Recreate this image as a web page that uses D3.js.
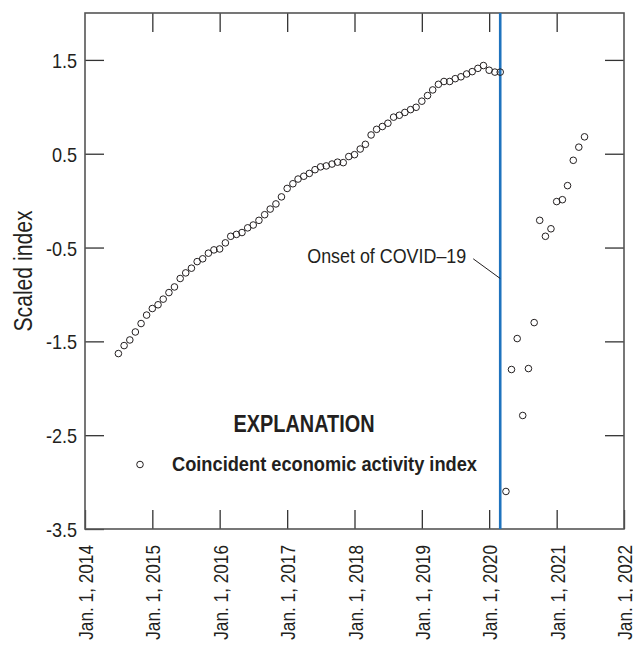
<!DOCTYPE html>
<html>
<head>
<meta charset="utf-8">
<script src="https://cdn.jsdelivr.net/npm/d3@7"></script>
<style>
  body { margin: 0; background: #fff; }
  svg text { font-family: "Liberation Sans", Arial, sans-serif; fill: #231f20; }
</style>
</head>
<body>
<svg id="chart"></svg>
<script>
var svg_width = 633;
var svg_height = 645;
var margin = {top: 13, right: 9, bottom: 116, left: 85};

// DATA (monthly, first of month)
var preStart = "2014-07-01";   // Jul 2014 .. Mar 2020
var preValues = [
  -1.63, -1.545, -1.485, -1.40, -1.31, -1.22,
  -1.15, -1.11, -1.05, -0.98, -0.92, -0.83, -0.77, -0.72, -0.65, -0.62, -0.56, -0.525,
  -0.515, -0.45, -0.38, -0.36, -0.34, -0.29, -0.26, -0.21, -0.15, -0.09, -0.035, 0.04,
  0.13, 0.18, 0.23, 0.26, 0.29, 0.33, 0.36, 0.37, 0.39, 0.41, 0.405, 0.47,
  0.49, 0.55, 0.60, 0.70, 0.76, 0.79, 0.825, 0.89, 0.91, 0.94, 0.97, 0.995,
  1.06, 1.12, 1.18, 1.24, 1.27, 1.27, 1.30, 1.32, 1.35, 1.375, 1.41, 1.44,
  1.39, 1.37, 1.37
];
var postStart = "2020-04-01";  // Apr 2020 .. Jun 2021
var postValues = [
  -3.10, -1.80, -1.47, -2.29, -1.79, -1.30, -0.21, -0.38, -0.30,
  -0.01, 0.01, 0.16, 0.43, 0.57, 0.68
];
var onsetDate = "2020-03-01";
var xTickYears = [2014, 2015, 2016, 2017, 2018, 2019, 2020, 2021, 2022];
var yTickValues = [1.5, 0.5, -0.5, -1.5, -2.5, -3.5];
var yDomain = [-3.5, 2.0];

function monthSeries(start, values) {
  var d0 = new Date(start + "T00:00:00Z");
  return values.map(function(v, i) {
    return {date: d3.utcMonth.offset(d0, i), value: v};
  });
}
var points = monthSeries(preStart, preValues).concat(monthSeries(postStart, postValues));

var plotLeft = margin.left, plotRight = svg_width - margin.right;
var plotTop = margin.top, plotBottom = svg_height - margin.bottom;

// squeeze text horizontally to fake a condensed face
function condense(sel, factor) {
  sel.each(function() {
    var w = this.getComputedTextLength();
    d3.select(this).attr("textLength", w * factor).attr("lengthAdjust", "spacingAndGlyphs");
  });
}
function fitWidth(sel, width) {
  sel.attr("textLength", width).attr("lengthAdjust", "spacingAndGlyphs");
}

// SCALES
var xScale = d3.scaleUtc()
               .domain([new Date(Date.UTC(2014, 0, 1)), new Date(Date.UTC(2022, 0, 1))])
               .range([plotLeft, plotRight]);
var yScale = d3.scaleLinear()
               .domain(yDomain)
               .range([plotBottom, plotTop]);

var svg = d3.select("#chart")
    .attr("width", svg_width)
    .attr("height", svg_height);

var tickLen = 19;
var years = xTickYears.map(function(y) { return new Date(Date.UTC(y, 0, 1)); });
var innerYears = years.slice(1, -1);
var innerY = yTickValues.slice(0, -1);

// AXES
var xAxis = d3.axisBottom(xScale)
              .tickValues(years)
              .tickSize(-tickLen)
              .tickSizeOuter(0)
              .tickFormat(function(d) { return "Jan. 1, " + d.getUTCFullYear(); });
var gx = svg.append("g")
    .attr("transform", "translate(0," + plotBottom + ")")
    .call(xAxis);
gx.selectAll("text")
    .attr("transform", "rotate(-90)")
    .attr("x", -16)
    .attr("y", 0)
    .attr("dy", "0.36em")
    .attr("font-family", null)
    .attr("font-size", null)
    .style("text-anchor", "end")
    .style("font-size", "21px")
    .call(condense, 0.82);

var yAxis = d3.axisLeft(yScale)
              .tickValues(yTickValues)
              .tickSize(-tickLen)
              .tickSizeOuter(0)
              .tickFormat(function(d) { return d.toFixed(1); });
var gy = svg.append("g")
    .attr("transform", "translate(" + plotLeft + ",0)")
    .call(yAxis);
gy.selectAll("text")
    .attr("x", -8)
    .attr("dy", "0.36em")
    .style("font-size", "21px")
    .call(condense, 0.86);

svg.append("g")
    .attr("transform", "translate(0," + plotTop + ")")
    .call(d3.axisTop(xScale).tickValues(innerYears).tickSize(-tickLen).tickSizeOuter(0).tickFormat(""));
svg.append("g")
    .attr("transform", "translate(" + plotRight + ",0)")
    .call(d3.axisRight(yScale).tickValues(innerY).tickSize(-tickLen).tickSizeOuter(0).tickFormat(""));

svg.selectAll(".domain").remove();
svg.selectAll(".tick line").attr("stroke", "#333").attr("stroke-width", 1.3);

// frame
svg.append("rect")
    .attr("x", plotLeft)
    .attr("y", plotTop)
    .attr("width", plotRight - plotLeft)
    .attr("height", plotBottom - plotTop)
    .attr("fill", "none")
    .attr("stroke", "#555")
    .attr("stroke-width", 1.6);

// onset line
var ox = xScale(new Date(onsetDate + "T00:00:00Z"));
svg.append("line")
    .attr("x1", ox)
    .attr("x2", ox)
    .attr("y1", plotTop)
    .attr("y2", plotBottom)
    .attr("stroke", "#1f73be")
    .attr("stroke-width", 2.6);

// POINTS
svg.append("g")
  .selectAll("circle")
  .data(points)
  .enter()
  .append("circle")
    .attr("cx", function(d) { return xScale(d.date); })
    .attr("cy", function(d) { return yScale(d.value); })
    .attr("r", 3.3)
    .attr("fill", "none")
    .attr("stroke", "#231f20")
    .attr("stroke-width", 1);

// ANNOTATION
svg.append("line")
    .attr("x1", ox - 27)
    .attr("y1", yScale(-0.62))
    .attr("x2", ox)
    .attr("y2", yScale(-0.83))
    .attr("stroke", "#231f20")
    .attr("stroke-width", 1);
svg.append("text")
    .attr("x", ox - 34)
    .attr("y", 263)
    .style("text-anchor", "end")
    .style("font-size", "21px")
    .text("Onset of COVID\u201319")
    .call(fitWidth, 159);

// AXIS LABEL
svg.append("text")
    .attr("transform", "rotate(-90)")
    .attr("x", -(plotTop + plotBottom) / 2)
    .attr("y", 32)
    .style("text-anchor", "middle")
    .style("font-size", "25px")
    .text("Scaled index")
    .call(fitWidth, 121);

// EXPLANATION
svg.append("text")
    .attr("x", 304)
    .attr("y", 432)
    .style("text-anchor", "middle")
    .style("font-size", "24px")
    .style("font-weight", "bold")
    .text("EXPLANATION")
    .call(fitWidth, 141);
svg.append("circle")
    .attr("cx", 140)
    .attr("cy", 464.5)
    .attr("r", 3.3)
    .attr("fill", "none")
    .attr("stroke", "#231f20")
    .attr("stroke-width", 1);
svg.append("text")
    .attr("x", 172)
    .attr("y", 471)
    .style("font-size", "20px")
    .style("font-weight", "bold")
    .text("Coincident economic activity index")
    .call(fitWidth, 305);
</script>
</body>
</html>
